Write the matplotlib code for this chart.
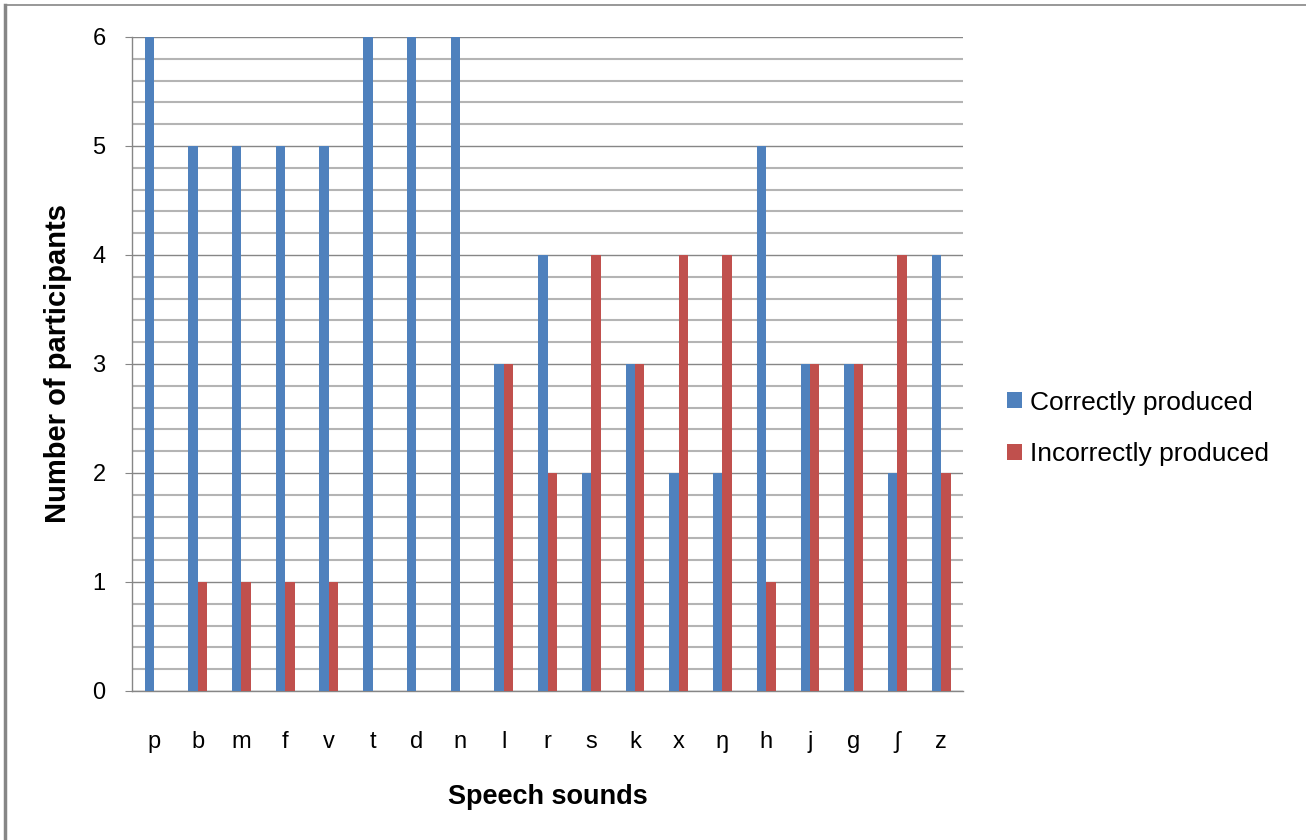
import numpy as np
import matplotlib.pyplot as plt
from matplotlib.lines import Line2D
from matplotlib.ticker import MultipleLocator

plt.rcParams['font.family'] = ['Liberation Sans', 'DejaVu Sans']

# data
sounds = ["p", "b", "m", "f", "v", "t", "d", "n", "l", "r", "s", "k", "x",
          "\u014b", "h", "j", "g", "\u0283", "z"]
correct = [6, 5, 5, 5, 5, 6, 6, 6, 3, 4, 2, 3, 2, 2, 5, 3, 3, 2, 4]
incorrect = [0, 1, 1, 1, 1, 0, 0, 0, 3, 2, 4, 3, 4, 4, 1, 3, 3, 4, 2]

blue = "#4F81BD"
red = "#C0504D"
grid_major = "#868686"
grid_minor = "#B4B4B4"

fig = plt.figure(figsize=(13.06, 8.4), dpi=100)
ax = fig.add_axes([0.1011, 0.1774, 0.6363, 0.7786])

x = np.arange(len(sounds))
w = 0.215
ax.bar(x - w / 2, correct, w, color=blue, label="Correctly produced", zorder=3)
ax.bar(x + w / 2, incorrect, w, color=red, label="Incorrectly produced", zorder=3)

ax.set_xlim(-0.5, len(sounds) - 0.5)
ax.set_ylim(0, 6)
ax.yaxis.set_major_locator(MultipleLocator(1))
ax.yaxis.set_minor_locator(MultipleLocator(0.2))
ax.grid(True, axis="y", which="minor", color=grid_minor, lw=1.5, zorder=1)
ax.grid(True, axis="y", which="major", color=grid_major, lw=1.0, zorder=2)
ax.set_axisbelow(True)

ax.set_xticks(x)
ax.set_xticklabels(sounds, fontsize=17)
ax.tick_params(axis="x", length=0, pad=29)
ax.tick_params(axis="y", which="major", length=5, color=grid_major,
               labelsize=17, pad=14)
ax.tick_params(axis="y", which="minor", length=0)

for s in ["top", "right"]:
    ax.spines[s].set_visible(False)
for s in ["left", "bottom"]:
    ax.spines[s].set_color(grid_major)
    ax.spines[s].set_linewidth(1.0)

ax.set_xlabel("Speech sounds", fontsize=19.5, fontweight="bold", labelpad=22)
ax.set_ylabel("Number of participants", fontsize=21, fontweight="bold", labelpad=15)

fig.legend(loc="center left", bbox_to_anchor=(0.753, 0.49), frameon=False,
           fontsize=19, handlelength=0.55, handleheight=0.55, handletextpad=0.3,
           labelspacing=1.05)

# outer frame of the chart
fig.add_artist(Line2D([0.004, 1.0], [0.994, 0.994], color=grid_major, lw=1.2,
                      transform=fig.transFigure))
fig.add_artist(Line2D([0.004, 0.004], [0.0, 0.994], color=grid_major, lw=2.5,
                      transform=fig.transFigure))

fig.savefig("out.png", dpi=100)
